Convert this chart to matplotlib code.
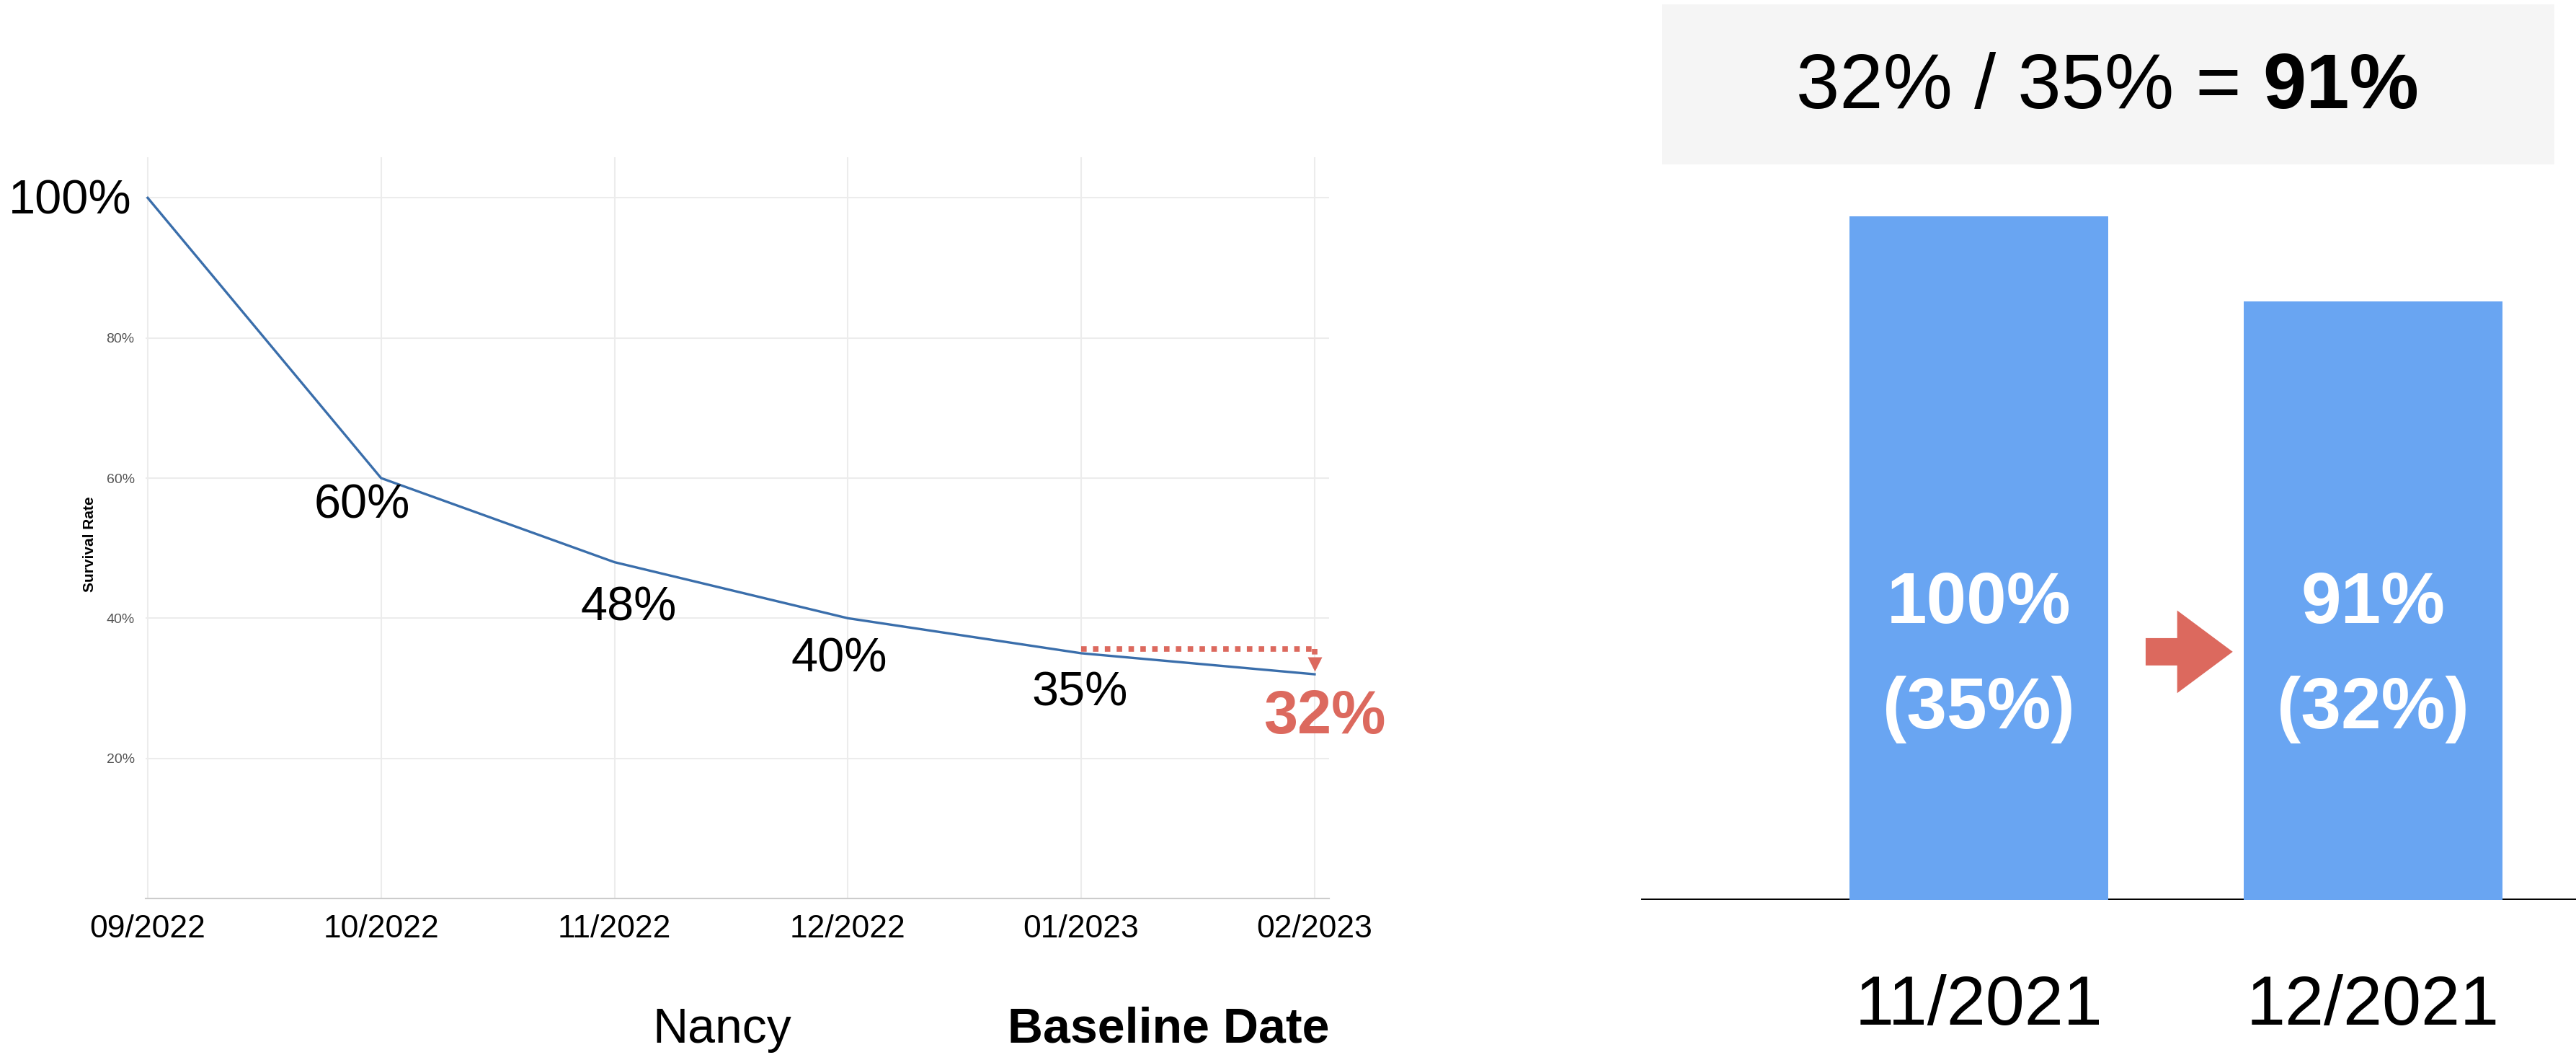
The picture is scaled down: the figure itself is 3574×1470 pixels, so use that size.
import matplotlib
matplotlib.use("Agg")
import matplotlib.pyplot as plt
from matplotlib.patches import Rectangle, FancyArrow

plt.rcParams['font.family'] = ['Liberation Sans', 'DejaVu Sans']

# ---------------------------------------------------------------
# datos
# ---------------------------------------------------------------
meses = ['09/2022', '10/2022', '11/2022', '12/2022', '01/2023', '02/2023']
supervivencia = [100, 60, 48, 40, 35, 32]
etiquetas_linea = ['100%', '60%', '48%', '40%', '35%', '32%']

yticks = [20, 40, 60, 80, 100]
ytick_labels = ['20%', '40%', '60%', '80%', '']

barras_cat = ['11/2021', '12/2021']
barras_alto = [100, 87.6]
barras_pct = ['100%', '91%']
barras_sub = ['(35%)', '(32%)']

AZUL_LINEA = '#3a6eab'
AZUL_BARRA = '#69a5f2'
ROJO = '#dc695e'

W, H = 3574, 1470
fig = plt.figure(figsize=(W / 100, H / 100), dpi=100, facecolor='white')

# ---------------------------------------------------------------
# panel izquierdo: curva de supervivencia
# ---------------------------------------------------------------
ax = fig.add_axes([202 / W, 1 - 1246 / H, (1844 - 202) / W, (1246 - 218) / H])
x = list(range(len(meses)))
ax.plot(x, supervivencia, color=AZUL_LINEA, lw=2.4, zorder=3)
ax.set_xlim(-0.009, 5.062)
ax.set_ylim(0, 105.8)

ax.set_xticks(x)
ax.set_xticklabels(meses, fontsize=32)
ax.set_yticks(yticks)
ax.set_yticklabels(ytick_labels, fontsize=14, color='#555555')
ax.tick_params(axis='x', length=0, pad=16)
ax.tick_params(axis='y', length=0, pad=11)
ax.grid(True, color='#ececec', lw=1.5)
ax.set_axisbelow(True)
for s in ['top', 'right', 'left']:
    ax.spines[s].set_visible(False)
ax.spines['bottom'].set_color('#cccccc')
ax.spines['bottom'].set_linewidth(1.5)

# etiquetas de cada punto (desplazamiento en pixeles)
offsets = [(-22, -5), (-26, -38), (20, -64), (-12, -57), (-2, -56), (14, -60)]
for i, (lab, (dx, dy)) in enumerate(zip(etiquetas_linea, offsets)):
    if i == 0:
        ax.annotate(lab, (x[i], supervivencia[i]), xytext=(dx, dy),
                    textcoords='offset pixels', ha='right', va='center',
                    fontsize=48)
    elif i == len(x) - 1:
        ax.annotate(lab, (x[i], supervivencia[i]), xytext=(dx, dy),
                    textcoords='offset pixels', ha='center', va='center',
                    fontsize=61, fontweight='bold', color=ROJO)
    else:
        ax.annotate(lab, (x[i], supervivencia[i]), xytext=(dx, dy),
                    textcoords='offset pixels', ha='center', va='center',
                    fontsize=48)

# flecha punteada roja de 35% a 32%
y_ref = supervivencia[4] + 0.6
ax.plot([x[4], x[5]], [y_ref, y_ref], color=ROJO, lw=5.5,
        ls=(0, (1, 1.15)), zorder=4)
ax.plot([x[5], x[5]], [y_ref, 34.3], color=ROJO, lw=5.5,
        ls=(0, (1, 1.15)), zorder=4)
ax.plot([x[5]], [33.4], marker='v', ms=13.7, color=ROJO, mec='none', zorder=4)

fig.text(125 / W, 1 - 755 / H, 'Survival Rate', rotation=90, ha='center',
         va='center', fontsize=15, fontweight='bold',
         family=['Liberation Sans Narrow', 'Liberation Sans'])

fig.text(1002 / W, 1 - 1428 / H, 'Nancy', ha='center', va='center', fontsize=49)
fig.text(1621 / W, 1 - 1428 / H, 'Baseline Date', ha='center', va='center',
         fontsize=49, fontweight='bold')

# ---------------------------------------------------------------
# panel derecho: barras
# ---------------------------------------------------------------
ax2 = fig.add_axes([2277 / W, 1 - 1248 / H, (W - 2277) / W, (1248 - 300) / H])
xb = [0, 1]
ax2.bar(xb, barras_alto, width=0.656, color=AZUL_BARRA, zorder=2)
ax2.axhline(0, color='black', lw=2.7, zorder=1)
ax2.set_xlim(-0.857, 1.515)
ax2.set_ylim(0, 100)
ax2.set_yticks([])
ax2.set_xticks(xb)
ax2.set_xticklabels(barras_cat, fontsize=70)
ax2.tick_params(axis='x', length=0, pad=74)
for s in ax2.spines.values():
    s.set_visible(False)

for xi, p, sub in zip(xb, barras_pct, barras_sub):
    ax2.text(xi, 43.3, p, ha='center', va='center', color='white',
             fontsize=72, fontweight='bold', zorder=3)
    ax2.text(xi, 27.9, sub, ha='center', va='center', color='white',
             fontsize=72, fontweight='bold', zorder=3)

ax2.add_patch(FancyArrow(0.423, 36.3, 0.221, 0, width=4.0, head_width=12.1,
                         head_length=0.141, length_includes_head=True,
                         color=ROJO, lw=0, zorder=3))

# caja superior con el cociente
fig.patches.append(Rectangle((2306 / W, 1 - 228 / H), (3544 - 2306) / W,
                             (228 - 6) / H, transform=fig.transFigure,
                             facecolor='#f5f5f5', edgecolor='none'))
yc = 1 - 122 / H
t_full = fig.text(0, yc, '32% / 35% = 91%', fontsize=78, va='center')
t_fin = fig.text(0, yc, '91%', fontsize=78, va='center')
r = fig.canvas.get_renderer()
w_pref = t_full.get_window_extent(r).width - t_fin.get_window_extent(r).width
t_full.remove()
t_fin.remove()
t_bold = fig.text(0, yc, '91%', fontsize=78, fontweight='bold', va='center')
w_bold = t_bold.get_window_extent(r).width
x0 = 2924 - (w_pref + w_bold) / 2
fig.text(x0 / W, yc, '32% / 35% =', fontsize=78, va='center')
t_bold.set_x((x0 + w_pref) / W)

fig.savefig('out.png', dpi=100, facecolor='white')
